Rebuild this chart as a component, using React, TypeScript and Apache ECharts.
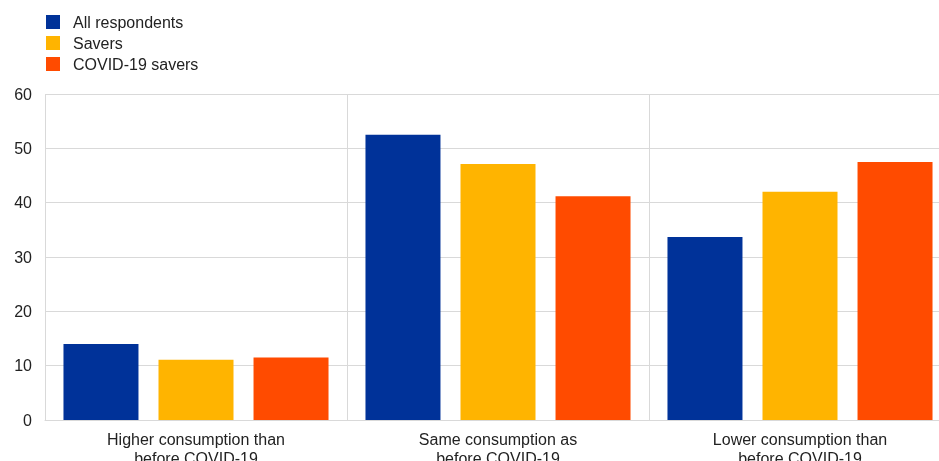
import React, { useEffect, useRef } from "react";
import * as echarts from "echarts";

const categories = [
  "Higher consumption than\nbefore COVID-19",
  "Same consumption as\nbefore COVID-19",
  "Lower consumption than\nbefore COVID-19",
];
const seriesNames = ["All respondents", "Savers", "COVID-19 savers"];
const allRespondents = [14.0, 52.5, 33.7];
const savers = [11.1, 47.1, 42.0];
const covidSavers = [11.5, 41.2, 47.5];
const colors = ["#003299", "#FFB400", "#FF4B00"];

export default function App() {
  const ref = useRef<HTMLDivElement>(null);
  useEffect(() => {
    if (!ref.current) return;
    const chart = echarts.init(ref.current, undefined, { renderer: "svg" });
    const data = [allRespondents, savers, covidSavers];
    chart.setOption({
      animation: false,
      textStyle: { fontFamily: "Liberation Sans, Arial, sans-serif" },
      legend: {
        orient: "vertical",
        left: 41,
        top: 9,
        itemWidth: 14,
        itemHeight: 14,
        itemGap: 5,
        icon: "rect",
        textStyle: { fontSize: 16, color: "#222", padding: [0, 0, 0, 8] },
        data: seriesNames,
      },
      grid: {
        left: 45,
        right: -12,
        top: 94,
        bottom: 41,
        containLabel: false,
        outerBoundsMode: "none",
      },
      xAxis: {
        type: "category",
        data: categories,
        axisLine: { show: true, lineStyle: { color: "#d9d9d9", width: 1 } },
        axisTick: { show: false },
        splitLine: { show: true, lineStyle: { color: "#d9d9d9", width: 1 } },
        axisLabel: {
          color: "#222",
          fontSize: 16,
          lineHeight: 19,
          margin: 10,
          interval: 0,
        },
      },
      yAxis: {
        type: "value",
        min: 0,
        max: 60,
        interval: 10,
        axisLine: { show: false },
        axisTick: { show: false },
        splitLine: { show: true, lineStyle: { color: "#d9d9d9", width: 1 } },
        axisLabel: { color: "#222", fontSize: 16, margin: 13 },
      },
      series: seriesNames.map((name, i) => ({
        name,
        type: "bar",
        data: data[i],
        barWidth: 75,
        barGap: "26.7%",
        itemStyle: { color: colors[i] },
      })),
    });
    return () => chart.dispose();
  }, []);
  return (
    <div
      ref={ref}
      style={{ position: "fixed", left: 0, top: 0, width: 939, height: 461 }}
    />
  );
}
